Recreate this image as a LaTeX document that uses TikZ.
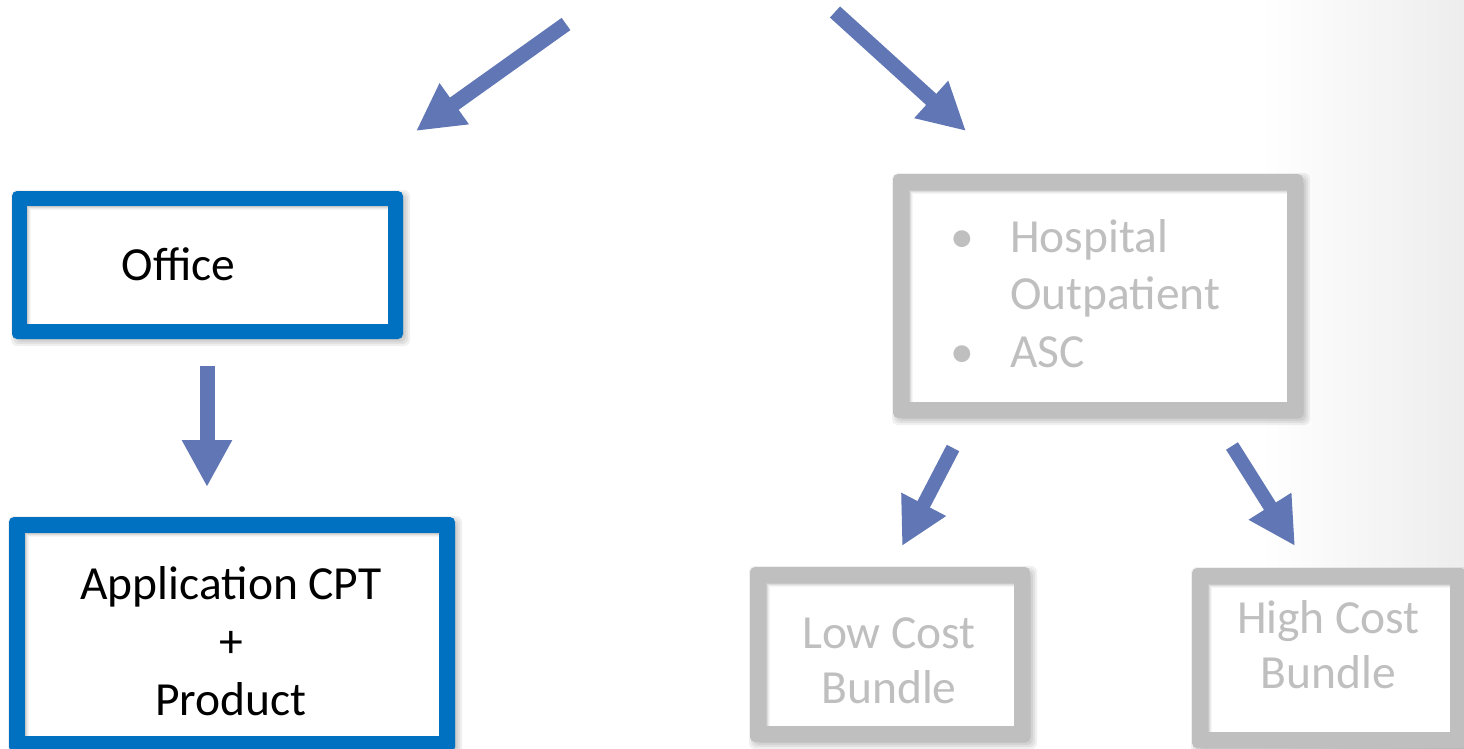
\documentclass[tikz,border=0pt]{standalone}
\usepackage{fontspec}
\setmainfont{Carlito}
\usetikzlibrary{arrows.meta,fit}
\definecolor{bluebd}{RGB}{0,112,192}
\definecolor{graybd}{RGB}{191,191,191}
\definecolor{arrowc}{RGB}{96,118,181}
% #1 name, #2 x1, #3 y1, #4 x2, #5 y2, #6 colour, #7 thickness
\newcommand\framedbox[7]{%
  \foreach \s in {-2,0,2,4}{%
    \fill[black, opacity=0.06, rounded corners=6pt] (#2+3-\s,#3+3-\s) rectangle (#4+3+\s,#5+3+\s);}
  \fill[#6, rounded corners=5pt] (#2,#3) rectangle (#4,#5);
  \fill[white] (#2+#7,#3+#7) rectangle (#4-#7,#5-#7);
  \foreach \s/\o in {0.5/0.22,1.5/0.14,2.5/0.08,3.5/0.04}{%
    \draw[black, opacity=\o, line width=1pt] (#2+#7+\s,#5-#7) -- (#2+#7+\s,#3+#7+\s) -- (#4-#7,#3+#7+\s);}
  \node[fit={(#2,#3) (#4,#5)}, inner sep=0pt] (#1) {};
}
\begin{document}
\begin{tikzpicture}[x=1pt,y=-1pt,
  bigarrow/.style={draw=arrowc, line width=15pt, line cap=butt, -{Triangle[width=47pt,length=47pt]}},
  smallarrow/.style={draw=arrowc, line width=14pt, line cap=butt, -{Triangle[width=47pt,length=47pt]}},
  lbl/.style={font=\fontsize{47.5}{57.5}\selectfont, inner sep=0pt, anchor=base},
  dark/.style={lbl, text=black},
  pale/.style={lbl, text=graybd}]
\useasboundingbox (0,0) rectangle (1464,749);
\fill[white] (0,0) rectangle (1464,749);
\shade[left color=white, right color=black!7] (1260,0) rectangle (1464,749);

% boxes
\framedbox{office}{12}{191}{403}{339}{bluebd}{15}
\framedbox{app}{9}{517}{455}{752}{bluebd}{16}
\framedbox{hosp}{893}{174}{1303}{418}{graybd}{16}
\framedbox{low}{750}{567}{1030}{742}{graybd}{16}
\framedbox{high}{1192}{568}{1466}{748}{graybd}{16}

% texts
\node[dark] (tOffice) at (178.5,280) {Office};
\node[dark] (tApp) at (231,599) {Application CPT};
\node[dark] (tPlus) at (231,657) {+};
\node[dark] (tProd) at (231,715) {Product};

\node[pale] (b1) at (962,252) {•};
\node[pale, anchor=base west] (tHosp) at (1010,252) {Hospital};
\node[pale, anchor=base west] (tOut) at (1010,309) {Outpatient};
\node[pale] (b2) at (962,367) {•};
\node[pale, anchor=base west] (tASC) at (1010,367) {ASC};

\node[pale] (tLow1) at (889,648) {Low Cost};
\node[pale] (tLow2) at (889,703) {Bundle};
\node[pale] (tHigh1) at (1328.5,633) {High Cost};
\node[pale] (tHigh2) at (1328.5,688) {Bundle};

% arrows
\coordinate (a1s) at (566,24);  \coordinate (a1e) at (416,131);
\coordinate (a2s) at (835,12);  \coordinate (a2e) at (966,131);
\coordinate (a3s) at (207,366); \coordinate (a3e) at (207,487);
\coordinate (a4s) at (953,448); \coordinate (a4e) at (902,546);
\coordinate (a5s) at (1232,446);\coordinate (a5e) at (1295,546);
\draw[bigarrow] (a1s) -- (a1e);
\draw[bigarrow] (a2s) -- (a2e);
\draw[bigarrow] (a3s) -- (a3e);
\draw[smallarrow] (a4s) -- (a4e);
\draw[smallarrow] (a5s) -- (a5e);
\end{tikzpicture}
\end{document}
